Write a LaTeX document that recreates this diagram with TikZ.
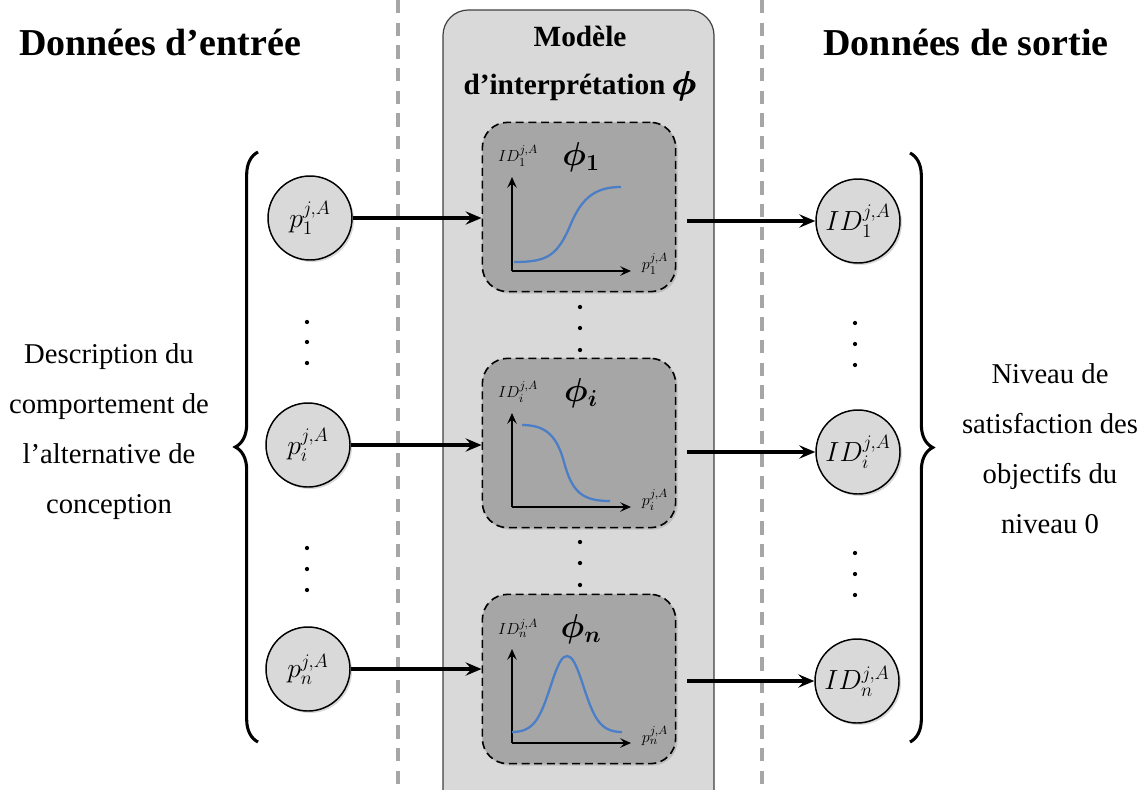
\documentclass[tikz,border=0pt]{standalone}
\usepackage{fontspec}
\setmainfont{Liberation Serif}
\usepackage{amsmath}
\usetikzlibrary{arrows.meta,shadows,decorations.pathreplacing,positioning}

\definecolor{modelgray}{HTML}{D9D9D9}
\definecolor{phigray}{HTML}{A6A6A6}
\definecolor{sepgray}{HTML}{A6A6A6}
\definecolor{curveblue}{HTML}{4A7EC6}

\begin{document}
\begin{tikzpicture}[x=0.75pt, y=-0.75pt,
    sepline/.style={sepgray, line width=2.6pt, dash pattern=on 10pt off 7pt},
    modelbox/.style={draw=black!75, line width=0.9pt, fill=modelgray, rounded corners=19pt},
    phibox/.style={draw, line width=1.2pt, dash pattern=on 6pt off 3.5pt, fill=phigray,
      rounded corners=19pt, minimum width=145pt, minimum height=127pt,
      drop shadow={opacity=0.3, shadow xshift=1.5pt, shadow yshift=-1.5pt}},
    datanode/.style={circle, draw, line width=1.1pt, fill=modelgray, minimum size=63pt,
      inner sep=0pt, font=\fontsize{20}{24}\selectfont,
      drop shadow={opacity=0.3, shadow xshift=1.5pt, shadow yshift=-1.5pt}},
    flow/.style={line width=2.3pt, -{Stealth[length=12pt, width=10pt, inset=4.5pt]}},
    axis/.style={line width=1.6pt, -{Stealth[length=8pt, width=7pt, inset=3pt]}},
    curve/.style={curveblue, line width=1.7pt},
    bracket/.style={decorate, decoration={brace, amplitude=17pt}, line width=2.3pt},
    bigtitle/.style={font=\fontsize{28.5}{32}\selectfont\bfseries},
    sidetext/.style={align=center, font=\fontsize{21.5}{37.5}\selectfont},
    axislabel/.style={inner sep=0pt, font=\fontsize{13}{15}\selectfont},
    philabel/.style={inner sep=0pt, font=\fontsize{26}{28}\selectfont},
    vdot/.style={fill=black}]
  % page frame
  \useasboundingbox (0,0) rectangle (1144,789);

  % column separators
  \draw[sepline] (398,0) -- (398,789);
  \draw[sepline] (762,0) -- (762,789);

  % interpretation model
  \draw[modelbox] (443,10) rectangle (714,840);
  \node[font=\fontsize{22}{36}\selectfont\bfseries, align=center] (modeltitle) at (580,64)
    {Modèle\\d’interprétation {\fontsize{30}{30}\selectfont$\pmb{\boldsymbol{\phi}}$}};

  % column titles
  \node[bigtitle] (intitle) at (160,42) {Données d’entrée};
  \node[bigtitle] (outtitle) at (966,42) {Données de sortie};

  % input parameters
  \node[datanode] (p1) at (310,218) {$p_1^{j,A}$};
  \node[datanode] (pi) at (308,445) {$p_i^{j,A}$};
  \node[datanode] (pn) at (308,669) {$p_n^{j,A}$};

  % interpretation functions
  \node[phibox] (phi1) at (579,207) {};
  \node[phibox] (phii) at (579,443) {};
  \node[phibox] (phin) at (579,679) {};

  % satisfaction degrees
  \node[datanode] (ID1) at (858,221) {$ID_1^{j,A}$};
  \node[datanode] (IDi) at (858,452) {$ID_i^{j,A}$};
  \node[datanode] (IDn) at (857,681) {$ID_n^{j,A}$};

  % axes and labels of each function
  \foreach \b/\s in {phi1/1, phii/i, phin/n} {
    \coordinate (\b-o) at ([shift={(-67,64)}]\b.center);
    \coordinate (\b-y) at ([shift={(-67,-30)}]\b.center);
    \coordinate (\b-x) at ([shift={(52,64)}]\b.center);
    \draw[axis] (\b-o) -- (\b-y);
    \draw[axis] (\b-o) -- (\b-x);
    \node[axislabel] (\b-id) at ([shift={(-61,-51)}]\b.center) {$ID_{\s}^{j,A}$};
    \node[philabel] (\b-name) at ([shift={(2,-50)}]\b.center) {$\boldsymbol{\phi_{\s}}$};
    \node[axislabel] (\b-p) at ([shift={(76,57)}]\b.center) {$p_{\s}^{j,A}$};
  }

  % curves
  \draw[curve, shift={(phi1-o)}] (2,-9) .. controls (35,-9) and (45,-15) .. (58,-45)
    .. controls (70,-75) and (85,-84) .. (109,-84);
  \draw[curve, shift={(phii-o)}] (10,-82) .. controls (35,-82) and (45,-70) .. (52,-45)
    .. controls (60,-15) and (70,-6) .. (98,-6);
  \draw[curve, shift={(phin-o)}] (0,-11) .. controls (22,-11) and (28,-25) .. (38,-55)
    .. controls (46,-80) and (50,-87) .. (55,-87)
    .. controls (60,-87) and (64,-80) .. (72,-55)
    .. controls (82,-25) and (88,-11) .. (110,-11);

  % flows
  \draw[flow] (p1) -- (p1 -| phi1.west);
  \draw[flow] (pi) -- (pi -| phii.west);
  \draw[flow] (pn) -- (pn -| phin.west);
  \draw[flow, shorten <=8pt] (phi1.east |- ID1) -- (ID1);
  \draw[flow, shorten <=8pt] (phii.east |- IDi) -- (IDi);
  \draw[flow, shorten <=8pt] (phin.east |- IDn) -- (IDn);

  % ellipsis dots
  \foreach \y in {322,342,363,548,569,590}
    \fill[vdot] (307,\y) circle (1.6pt);
  \foreach \y in {307,328,350,542,563,585}
    \fill[vdot] (580,\y) circle (1.6pt);
  \foreach \y in {323,344,365,553,574,595}
    \fill[vdot] (855,\y) circle (1.6pt);

  % braces
  \coordinate (lbtop) at (258,152);
  \coordinate (lbbot) at (258,742);
  \coordinate (rbtop) at (910,153);
  \coordinate (rbbot) at (910,742);
  \draw[bracket] (lbbot) -- (lbtop);
  \draw[bracket] (rbtop) -- (rbbot);

  % side descriptions
  \node[sidetext] (indesc) at (109,432)
    {Description du\\comportement de\\l’alternative de\\conception};
  \node[sidetext] (outdesc) at (1050,449)
    {Niveau de\\satisfaction des\\objectifs du\\niveau 0};
\end{tikzpicture}
\end{document}
